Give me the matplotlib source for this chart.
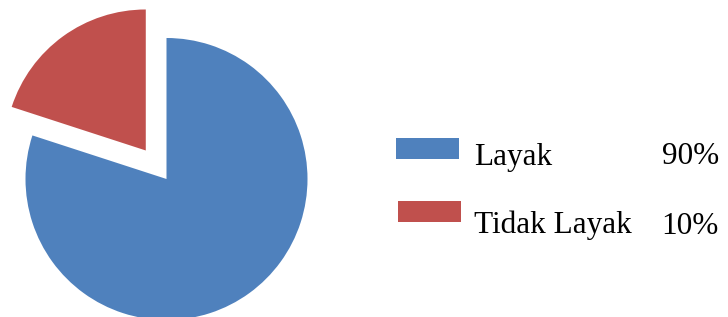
"""Pie chart: kelayakan (Layak / Tidak Layak) with an exploded slice."""
import matplotlib
matplotlib.use("Agg")
import matplotlib.pyplot as plt
from matplotlib.patches import Rectangle

# data (slice sizes as drawn, legend text as printed)
labels = ["Layak", "Tidak Layak"]
sizes = [80, 20]
pct_text = ["90%", "10%"]
colors = ["#4F81BD", "#C0504D"]
explode = [0.0, 0.25]

W, H = 728, 317
CX, CY, R = 166.5, 179.0, 141.0  # pie centre / radius in pixels


def px(x, y):
    """pixel position (origin top-left) -> data coords of the pie axes"""
    return (x - CX) / R, (CY - y) / R


fig = plt.figure(figsize=(W / 100, H / 100), dpi=100)
ax = fig.add_axes([0, 0, 1, 1])
ax.pie(sizes, colors=colors, explode=explode, startangle=90,
       counterclock=False, radius=1.0,
       wedgeprops=dict(linewidth=0))
ax.set_aspect("auto")
ax.set_xlim(-CX / R, (W - CX) / R)
ax.set_ylim(-(H - CY) / R, CY / R)
ax.axis("off")

font = dict(family="Liberation Serif", fontsize=22.5, color="black")
rows = [(137.5, 164.5, 396), (201.0, 233.5, 398)]
for (top, base, x0), lab, pct, col in zip(rows, labels, pct_text, colors):
    x_a, y_a = px(x0, top + 21)
    ax.add_patch(Rectangle((x_a, y_a), 63 / R, 21 / R, facecolor=col,
                           edgecolor="none", clip_on=False))
    tx, ty = px(474, base)
    ax.text(tx, ty, lab, ha="left", va="baseline", **font)
    rx, _ = px(719, base)
    ax.text(rx, ty, pct, ha="right", va="baseline", **font)

fig.savefig("out.png", dpi=100, facecolor="white")
